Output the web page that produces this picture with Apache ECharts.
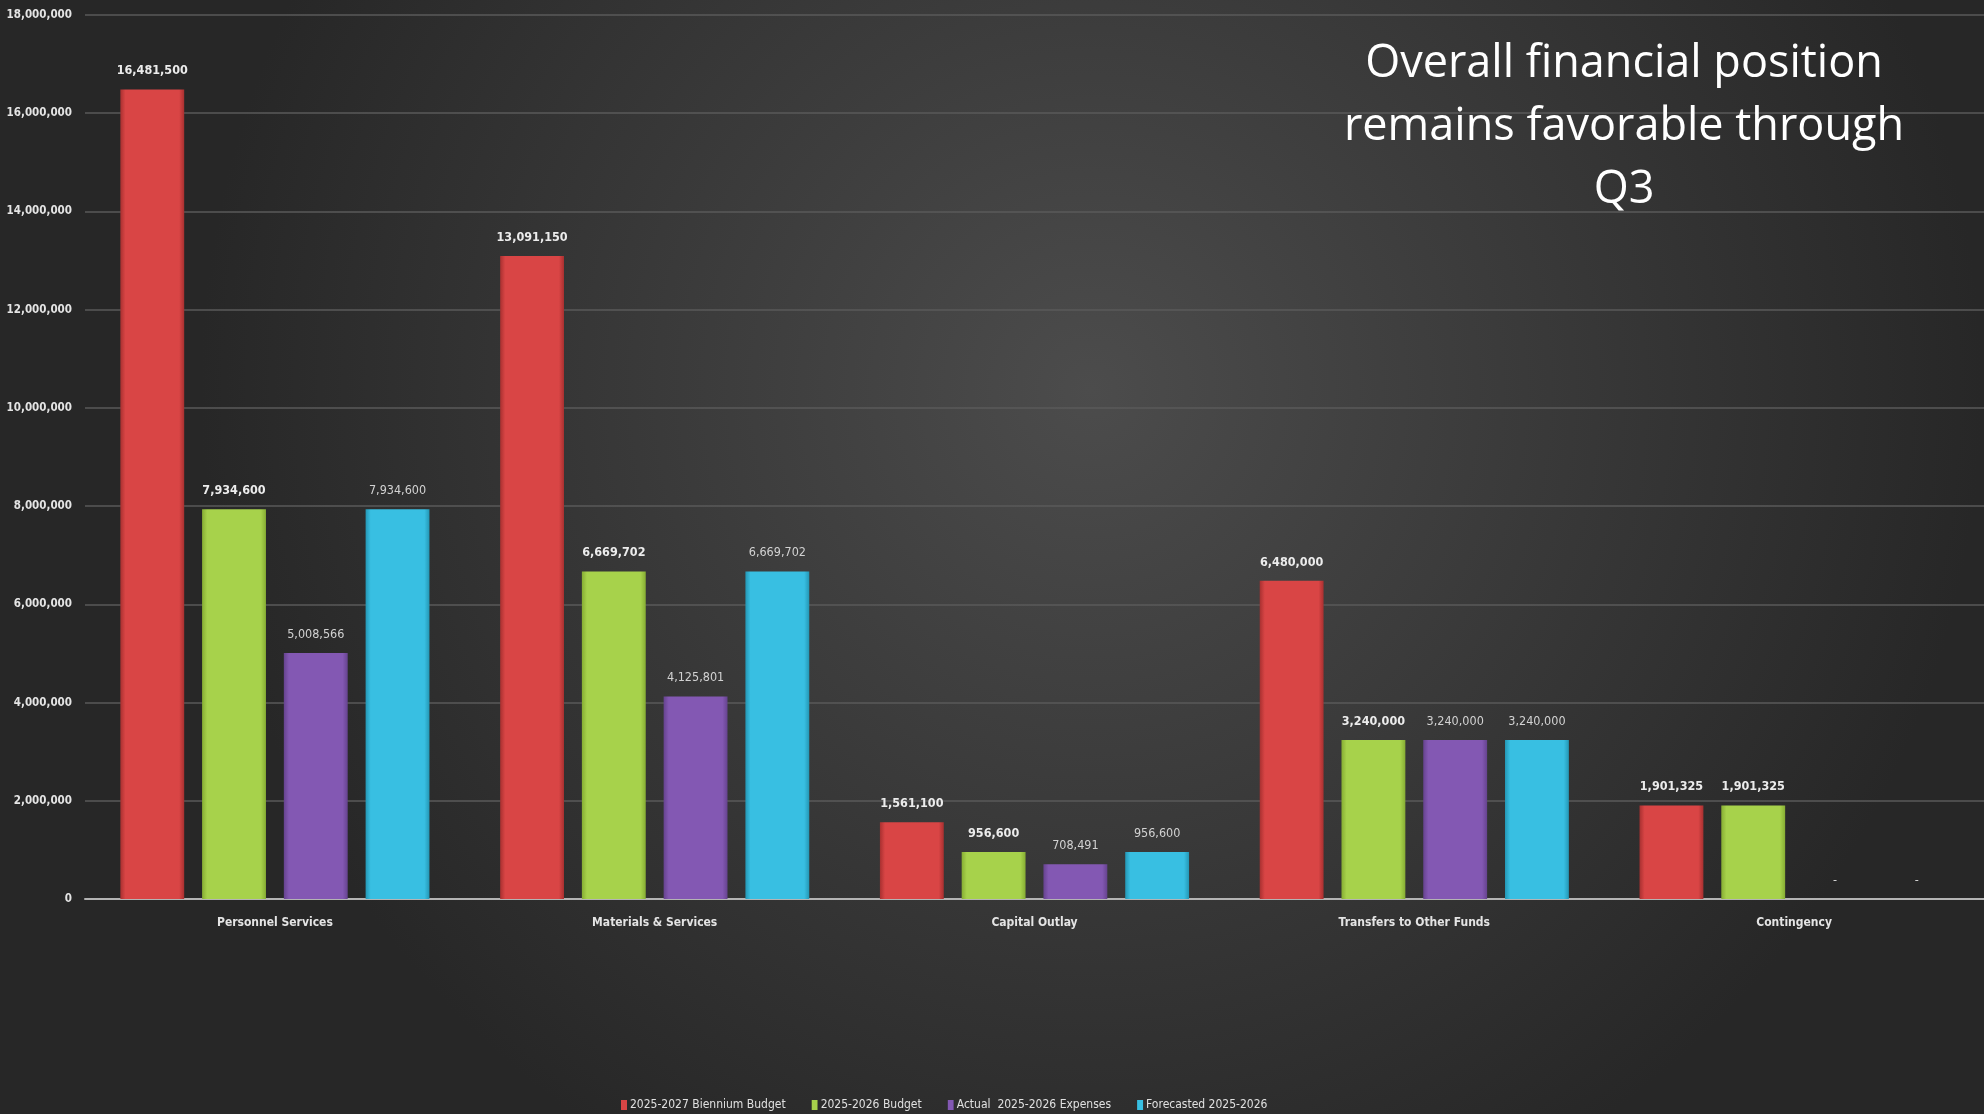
<!DOCTYPE html>
<html>
<head>
<meta charset="utf-8">
<title>Overall financial position</title>
<script src="https://cdn.jsdelivr.net/npm/echarts@6/dist/echarts.min.js"></script>
<style>
  html, body { margin: 0; padding: 0; background: #2e2e2e; }
  #chart { width: 1984px; height: 1114px; }
</style>
</head>
<body>
<div id="chart"></div>
<script>
// categories and series values
const categories = ['Personnel Services', 'Materials & Services', 'Capital Outlay', 'Transfers to Other Funds', 'Contingency'];
const seriesNames = ['2025-2027 Biennium Budget', '2025-2026 Budget', 'Actual  2025-2026 Expenses', 'Forecasted 2025-2026'];
const bienniumBudget = [16481500, 13091150, 1561100, 6480000, 1901325];
const annualBudget = [7934600, 6669702, 956600, 3240000, 1901325];
const actualExpenses = [5008566, 4125801, 708491, 3240000, 0];
const forecasted = [7934600, 6669702, 956600, 3240000, 0];
const yTicks = [0, 2000000, 4000000, 6000000, 8000000, 10000000, 12000000, 14000000, 16000000, 18000000];

const FONT = "'Liberation Sans Narrow', 'DejaVu Sans Condensed', sans-serif";

// bar colours: edge, face
const colors = [
  ['#a83030', '#d94545'],
  ['#86ad33', '#a7d24b'],
  ['#66438f', '#8358b3'],
  ['#2497b5', '#38bfe2']
];

function fmt(v) {
  return v === 0 ? '-' : v.toLocaleString('en-US');
}

function barSeries(name, data, i, bold) {
  return {
    name: name,
    type: 'bar',
    data: data,
    barGap: '28%',
    barCategoryGap: '18.6%',
    itemStyle: {
      color: {
        type: 'linear', x: 0, y: 0, x2: 1, y2: 0,
        colorStops: [
          { offset: 0, color: colors[i][0] },
          { offset: 0.08, color: colors[i][1] },
          { offset: 0.92, color: colors[i][1] },
          { offset: 1, color: colors[i][0] }
        ]
      }
    },
    label: {
      show: true,
      position: 'top',
      distance: 12,
      fontFamily: FONT,
      fontSize: 12.5,
      fontWeight: bold ? 'bold' : 'normal',
      color: bold ? '#ececec' : '#d2d2d2',
      formatter: p => fmt(p.value)
    }
  };
}

const chart = echarts.init(document.getElementById('chart'));

chart.setOption({
  backgroundColor: {
    type: 'radial', x: 0.55, y: 0.35, r: 0.8,
    colorStops: [
      { offset: 0, color: '#4c4c4c' },
      { offset: 1, color: '#272727' }
    ]
  },
  color: colors.map(c => c[1]),
  animation: false,
  title: {
    text: 'Overall financial position\nremains favorable through\nQ3',
    left: 1619,
    top: 28,
    textAlign: 'center',
    textStyle: {
      fontFamily: "'Open Sans', sans-serif",
      fontSize: 45,
      fontWeight: 'normal',
      color: '#ffffff',
      lineHeight: 63
    }
  },
  legend: {
    left: 616,
    top: 1094,
    itemWidth: 6,
    itemHeight: 10,
    itemGap: 26,
    icon: 'rect',
    textStyle: { fontFamily: FONT, fontSize: 12, color: '#e0e0e0', padding: [0, 0, 0, -2] },
    data: seriesNames
  },
  grid: { left: 85, right: 0, top: 15, bottom: 215, outerBoundsMode: 'none' },
  xAxis: {
    type: 'category',
    data: categories,
    axisTick: { show: false },
    axisLine: { lineStyle: { color: '#b4b4b4', width: 2 } },
    axisLabel: { fontFamily: FONT, fontSize: 12, fontWeight: 'bold', color: '#e4e4e4', margin: 18 }
  },
  yAxis: {
    type: 'value',
    min: yTicks[0],
    max: yTicks[yTicks.length - 1],
    interval: yTicks[1] - yTicks[0],
    axisLine: { show: false },
    axisTick: { show: false },
    splitLine: { lineStyle: { color: '#5a5a5a', width: 1.5 } },
    axisLabel: {
      fontFamily: FONT, fontSize: 11.5, fontWeight: 'bold', color: '#e4e4e4', margin: 13,
      formatter: v => v.toLocaleString('en-US')
    }
  },
  series: [
    barSeries(seriesNames[0], bienniumBudget, 0, true),
    barSeries(seriesNames[1], annualBudget, 1, true),
    barSeries(seriesNames[2], actualExpenses, 2, false),
    barSeries(seriesNames[3], forecasted, 3, false)
  ]
});
</script>
</body>
</html>
